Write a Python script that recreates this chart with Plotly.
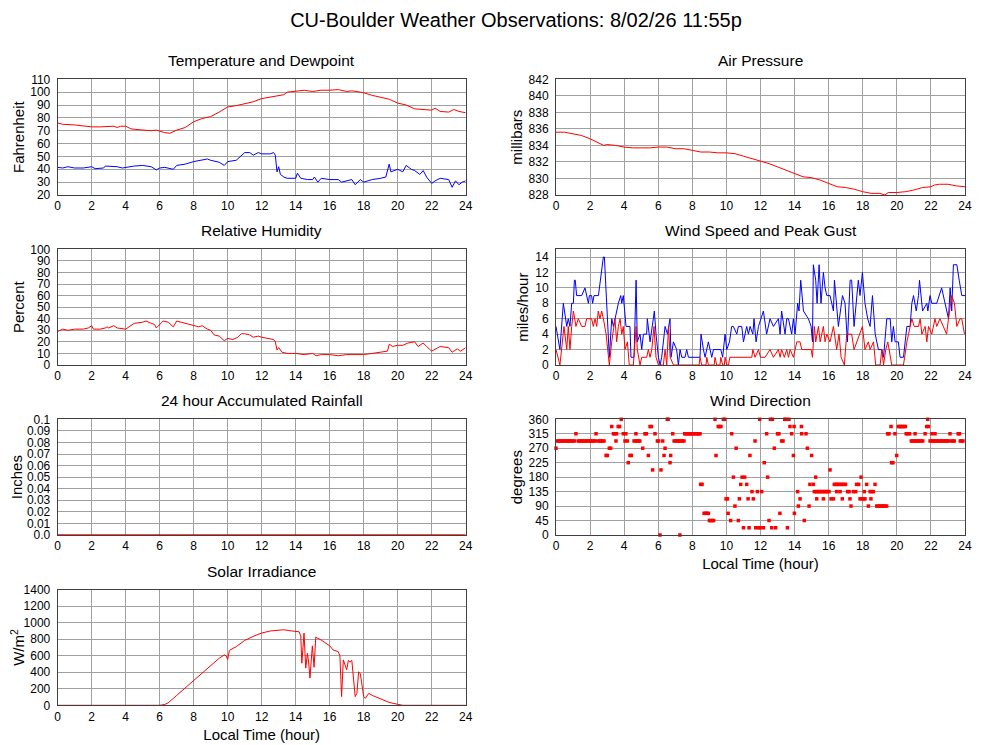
import plotly.graph_objects as go


# Température / point de rosée (°F) ---------------------------------------------
temp_h = [0, 0.3, 1, 1.5, 2, 2.5, 3, 3.3, 3.5, 3.7, 4, 4.3, 4.6, 5, 5.5, 5.8, 6, 6.3, 6.6, 6.8,
          7, 7.5, 8, 8.5, 9, 9.5, 10, 10.5, 11, 11.5, 12, 12.5, 13, 13.3, 13.5, 14, 14.5, 15, 15.5, 16,
          16.5, 17, 17.3, 17.6, 18, 18.5, 19, 19.5, 20, 20.5, 21, 21.5, 22, 22.2, 22.5, 23, 23.3, 23.6, 24]
temp_f = [76, 75, 74.5, 73.5, 73, 73, 73.5, 73.5, 72.5, 73.5, 73.5, 71.5, 71, 70.5, 70, 70.5, 69.5, 68.5, 68, 69.5,
          70.5, 72.5, 77, 79.5, 81, 84.5, 88.5, 89.5, 91, 92.5, 95, 96, 97, 98, 100, 101, 101.5, 100.5, 101.5, 101.5,
          102, 100.5, 101, 100.5, 99.5, 97.5, 96, 94.5, 91.5, 90, 87, 86.5, 86, 87.5, 85, 84.5, 86.5, 85, 84]

dew_h = [0, 0.3, 0.6, 1, 1.5, 2, 2.2, 2.7, 2.8, 3.2, 3.5, 3.8, 4, 4.5, 5, 5.5, 5.8, 6, 6.3, 6.6,
         6.8, 7, 7.5, 8, 8.5, 8.8, 9, 9.5, 9.8, 10, 10.5, 10.8, 11, 11.3, 11.5, 11.8, 12, 12.5, 12.7, 12.8,
         12.9, 13, 13.1, 13.3, 13.5, 14, 14.1, 14.3, 14.7, 15, 15.1, 15.3, 15.5, 16, 16.5, 16.7, 17, 17.3, 17.5, 17.8,
         18, 18.5, 19, 19.3, 19.5, 19.6, 20, 20.3, 20.5, 20.8, 21, 21.3, 21.5, 21.7, 22, 22.2, 22.5, 23, 23.2, 23.4,
         23.6, 23.8, 24]
dew_f = [41.5, 41, 42, 41, 41, 42, 40.5, 41, 42.5, 42, 42, 41, 41.5, 42.5, 43, 42, 39.5, 41, 41.5, 40.5,
         40, 43, 44, 46, 47, 48, 47, 45.5, 43, 46, 47, 51, 53, 53, 51, 53, 52, 52, 53, 51,
         38, 42, 36, 34, 33, 33, 37, 33, 32, 32, 34, 30, 33, 32, 32, 30, 31, 32, 28, 32,
         30, 32, 33, 34, 44, 38, 40, 38, 43, 40, 39, 36, 39, 34, 29, 31, 33, 32, 26, 31,
         28, 30, 31]

# Pression (mb) ----------------------------------------------------------------
pres_h = [0, 0.5, 1, 1.5, 2, 2.5, 2.8, 3, 3.5, 4, 4.5, 5, 5.5, 6, 6.5, 7, 7.5, 8, 8.5, 9,
          9.5, 10, 10.5, 11, 11.5, 12, 12.5, 13, 13.5, 14, 14.5, 15, 15.5, 16, 16.5, 17, 17.5, 18, 18.5, 19,
          19.3, 19.5, 20, 20.5, 21, 21.5, 22, 22.2, 22.5, 23, 23.5, 24]
pres_mb = [835.6, 835.6, 835.4, 835.2, 834.8, 834.3, 834.0, 834.1, 834.0, 833.8, 833.7, 833.7, 833.7, 833.8, 833.8,
           833.6, 833.6, 833.4, 833.2, 833.2, 833.1, 833.1, 833.0, 832.7, 832.4, 832.1, 831.8, 831.4, 831.0, 830.6,
           830.2, 830.1, 829.8, 829.4, 829.0, 828.9, 828.7, 828.4, 828.2, 828.2, 828.0, 828.3, 828.3, 828.4, 828.6,
           828.9, 829.0, 829.2, 829.3, 829.3, 829.1, 829.0]

# Humidité relative (%) --------------------------------------------------------
rh_h = [0, 0.3, 0.6, 1, 1.5, 1.8, 2, 2.1, 2.5, 2.8, 2.9, 3, 3.3, 3.5, 4, 4.3, 4.5, 5, 5.2, 5.5,
        5.7, 5.8, 6, 6.2, 6.5, 6.8, 7, 7.5, 8, 8.3, 8.5, 8.8, 9, 9.2, 9.5, 9.8, 10, 10.3, 10.6, 10.8,
        11, 11.3, 11.5, 11.8, 12, 12.3, 12.7, 12.8, 12.9, 13, 13.2, 13.5, 14, 14.5, 15, 15.2, 15.5, 16, 16.5, 17,
        17.5, 18, 18.5, 19, 19.4, 19.5, 19.7, 20, 20.3, 20.6, 21, 21.2, 21.5, 21.7, 22, 22.5, 23, 23.2, 23.5, 23.7,
        24]
rh_pct = [29, 31, 30, 31, 31, 32, 34, 31, 31, 32, 33, 32, 34, 32, 31, 34, 36, 37, 38, 36,
          35, 32, 35, 38, 37, 33, 38, 36, 34, 33, 34, 31, 30, 26, 25, 21, 23, 22, 24, 27,
          27, 26, 24, 25, 24, 23, 22, 20, 13, 15, 11, 10, 10, 9, 10, 8, 9, 9, 8, 9,
          9, 9, 10, 11, 12, 18, 16, 17, 17, 19, 20, 16, 19, 16, 12, 16, 15, 11, 14, 12,
          15]

# Vent (mph) -------------------------------------------------------------------
gust_h = [0.0, 0.23, 0.43, 0.63, 0.72, 0.82, 0.92, 1.02, 1.08, 1.13, 1.21, 1.51, 1.70, 1.80, 1.90, 1.96, 2.09, 2.15,
          2.23, 2.49, 2.62, 2.78, 2.84, 2.97, 3.13, 3.27, 3.37, 3.66, 3.80, 3.86, 3.95, 4.11, 4.34, 4.40, 4.58, 4.70,
          4.77, 4.93, 5.03, 5.13, 5.32, 5.36, 5.52, 5.71, 5.77, 5.87, 6.01, 6.11, 6.20, 6.40, 6.54, 6.69, 6.75, 6.89,
          7.08, 7.18, 7.28, 7.38, 7.57, 7.67, 7.77, 8.45, 8.51, 8.65, 8.75, 8.94, 9.14, 9.24, 9.53, 9.67, 9.78, 9.92,
          10.02, 10.18, 10.31, 10.41, 10.61, 10.70, 10.90, 11.00, 11.19, 11.29, 11.39, 11.55, 11.62, 11.74, 11.88,
          12.17, 12.36, 12.56, 12.76, 13.05, 13.15, 13.24, 13.44, 13.54, 13.64, 13.83, 13.93, 14.03, 14.18, 14.26,
          14.36, 14.52, 14.81, 14.97, 15.05, 15.10, 15.24, 15.32, 15.44, 15.55, 15.69, 15.79, 15.89, 16.08, 16.18,
          16.28, 16.34, 16.57, 16.81, 16.96, 17.10, 17.26, 17.35, 17.49, 17.74, 17.84, 17.98, 18.13, 18.29, 18.43,
          18.57, 18.73, 18.92, 19.12, 19.22, 19.41, 19.61, 19.70, 19.80, 19.90, 20.09, 20.19, 20.39, 20.59, 20.78,
          20.88, 20.98, 21.14, 21.27, 21.33, 21.51, 21.76, 21.82, 21.95, 22.05, 22.34, 22.63, 22.83, 22.93, 23.03,
          23.13, 23.22, 23.32, 23.52, 23.66, 23.81, 24.0]
gust_mph = [5, 2, 8, 5, 6, 5, 8, 8, 11, 11, 9, 9, 10, 9, 8, 9, 9, 8,
            9, 9, 11, 14, 14, 8, 1, 6, 5, 8, 9, 8, 9, 5, 5, 1, 1, 11,
            3, 4, 2, 4, 4, 6, 3, 6, 7, 4, 1, 0, 1, 5, 4, 6, 1, 3,
            2, 0, 2, 1, 1, 2, 1, 1, 4, 2, 1, 3, 1, 2, 2, 2, 1, 4,
            2, 3, 5, 5, 4, 5, 5, 3, 5, 4, 5, 4, 6, 3, 5,
            7, 4, 6, 5, 6, 4, 7, 4, 6, 6, 4, 6, 4, 8, 7,
            11, 7, 6, 5, 3, 13, 11, 8, 13, 8, 12, 10, 9, 9, 8,
            7, 11, 5, 9, 8, 3, 11, 11, 5, 11, 9, 12, 8, 6, 5,
            9, 4, 2, 2, 1, 6, 6, 3, 5, 3, 3, 1, 1, 5, 5,
            8, 9, 7, 9, 11, 7, 8, 7, 9, 8, 8, 10, 8, 7, 6,
            10, 7, 13, 13, 11, 9, 9]

spd_h = [0.0, 0.23, 0.47, 0.63, 0.72, 0.82, 0.92, 1.02, 1.17, 1.31, 1.51, 1.70, 1.80, 2.09, 2.19, 2.29, 2.39, 2.48,
         2.58, 2.68, 2.78, 2.94, 3.13, 3.27, 3.46, 3.56, 3.66, 3.76, 3.86, 3.95, 4.05, 4.19, 4.30, 4.54, 4.70, 4.77,
         4.93, 5.03, 5.32, 5.42, 5.52, 5.62, 5.75, 5.87, 6.01, 6.30, 6.40, 6.50, 6.60, 6.70, 6.89, 8.40, 8.45, 8.55,
         8.80, 8.85, 8.94, 9.28, 9.33, 9.43, 9.62, 9.67, 9.78, 9.88, 9.92, 10.02, 10.12, 10.20, 11.49, 11.55, 11.68,
         11.88, 12.00, 12.27, 12.56, 12.76, 13.05, 13.15, 13.24, 13.40, 13.54, 13.64, 13.74, 13.93, 14.13, 14.32,
         14.42, 14.97, 15.05, 15.16, 15.24, 15.40, 15.50, 15.69, 15.79, 15.89, 16.08, 16.28, 16.47, 16.61, 16.73,
         16.92, 17.06, 17.35, 17.49, 17.98, 18.13, 18.33, 18.43, 18.63, 18.76, 19.02, 19.12, 19.22, 19.35, 19.47,
         19.70, 20.39, 20.59, 20.78, 20.88, 21.02, 21.27, 21.37, 21.47, 21.66, 21.76, 21.86, 22.05, 22.24, 22.34,
         22.53, 22.73, 22.92, 23.03, 23.22, 23.38, 23.52, 23.71, 23.81, 23.97]
spd_mph = [2, 0, 5, 2, 5, 2, 5, 7, 5, 6, 5, 5, 6, 6, 5, 6, 5, 7,
           6, 7, 6, 4, 0, 3, 6, 3, 5, 6, 4, 5, 2, 3, 0, 0, 5, 2,
           0, 1, 1, 2, 1, 2, 5, 1, 0, 0, 2, 0, 5, 1, 0, 0, 1, 0,
           0, 1, 0, 0, 1, 0, 0, 1, 0, 0, 1, 0, 0, 1, 1, 2, 1,
           2, 1, 1, 2, 1, 2, 1, 2, 1, 2, 1, 2, 1, 3, 3,
           2, 2, 1, 5, 3, 5, 3, 5, 3, 4, 3, 5, 2, 4, 1,
           0, 4, 4, 2, 5, 2, 3, 2, 3, 0, 0, 2, 0, 2, 3,
           0, 0, 3, 5, 6, 5, 5, 6, 4, 5, 3, 5, 4, 6, 5,
           6, 5, 4, 6, 9, 8, 5, 6, 6, 4]

# Direction du vent : heures par secteur (degrés) ------------------------------
wd_0 = [6.1, 7.27]
wd_22 = [11.0, 11.33, 11.72, 11.9, 11.98, 12.17, 12.66, 12.89, 13.58]
wd_45 = [9.0, 9.08, 9.17, 9.25, 10.25, 10.7, 12.5, 14.57]
wd_67 = [8.69, 8.77, 8.85, 8.94, 10.1, 13.14, 13.99]
wd_90 = [10.5, 14.22, 14.85, 17.31, 18.33, 18.82, 18.9, 18.98, 19.07, 19.15, 19.23, 19.32, 19.4]
wd_112 = [9.98, 10.06, 10.76, 11.27, 11.58, 14.32, 15.3, 15.69, 16.14, 16.28, 16.8, 17.25, 17.84, 17.95, 18.05,
          18.13, 18.48]
wd_135 = [11.5, 11.82, 12.07, 14.18, 15.16, 15.25, 15.33, 15.42, 15.5, 15.6, 15.68, 15.77, 15.85, 15.93, 16.02,
          16.47, 16.67, 17.11, 17.2, 17.45, 17.59, 18.09, 18.43, 18.53, 18.62]
wd_157 = [8.49, 8.57, 10.84, 11.19, 14.9, 15.1, 16.33, 16.42, 16.5, 16.6, 16.7, 16.8, 16.9, 16.99, 17.64, 17.76,
          18.23, 18.72]
wd_180 = [10.41, 10.92, 11.07, 12.42, 15.24, 17.9]
wd_202 = [5.67, 6.16, 16.08]
wd_225 = [4.24, 6.69, 12.22, 19.69, 19.77]
wd_247 = [2.94, 3.01, 4.34, 4.42, 5.42, 6.34, 6.73, 9.39, 11.38, 13.93, 15.0, 19.99]
wd_270 = [0.0, 3.13, 3.21, 5.09, 6.4, 10.57, 12.81, 14.75]
wd_292 = [0.08, 0.17, 0.25, 0.33, 0.42, 0.5, 0.58, 0.67, 0.75, 0.83, 0.92, 1.0, 1.08,
          1.3, 1.38, 1.47, 1.55, 1.63, 1.72, 1.8, 1.88, 1.97, 2.05, 2.13, 2.22, 2.3,
          2.48, 2.57, 2.65, 2.73, 2.82, 3.52, 4.05, 4.19, 4.58, 4.67, 4.75, 4.83, 4.92,
          5.95, 6.02, 6.26, 6.93, 7.02, 7.1, 7.18, 7.27, 7.35, 7.43, 7.51, 11.68, 13.24, 13.32,
          20.85, 20.93, 21.02, 21.1, 21.18, 21.27, 21.35, 21.43, 21.52,
          21.95, 22.03, 22.12, 22.2, 22.28, 22.37, 22.45, 22.53, 22.62, 22.7, 22.78, 22.87, 22.95, 23.03,
          23.2, 23.28, 23.37, 23.72, 23.8, 23.88]
wd_315 = [1.17, 2.35, 3.37, 3.45, 3.55, 3.95, 4.1, 4.69, 5.22, 5.3, 5.81, 6.85, 7.55, 7.63, 7.72, 7.8, 7.88,
          7.97, 8.05, 8.13, 8.22, 8.3, 8.38, 8.45, 10.31, 12.36, 13.0, 13.08, 13.83, 14.42, 14.67, 19.46, 19.54,
          19.89, 20.55, 20.65, 20.75, 21.07, 21.66, 22.06, 22.24, 23.12, 23.6, 23.68]
wd_337 = [3.27, 3.65, 3.73, 5.52, 5.6, 9.52, 9.6, 9.68, 13.73, 13.97, 14.4, 19.66, 20.09, 20.17, 20.25, 20.33,
          20.42, 20.5, 21.75, 21.85]
wd_360 = [3.83, 6.53, 6.58, 9.33, 9.82, 9.9, 11.95, 12.58, 12.7, 13.42, 13.5, 13.67, 21.81]

# Pluie (in) et rayonnement solaire (W/m2) --------------------------------------
rain_h = [0, 24]
rain_in = [0.0, 0.0]

sol_h = [0, 6.0, 6.3, 6.5, 7, 7.5, 8, 8.5, 9, 9.5, 9.8, 9.9, 10, 10.05, 10.1, 10.5, 11, 11.5, 12, 12.5,
         13, 13.3, 13.6, 14, 14.2, 14.3, 14.36, 14.43, 14.49, 14.59, 14.69, 14.76, 14.84, 14.92, 14.98, 15.08,
         15.18, 15.5, 16, 16.2, 16.5, 16.6, 16.7, 16.8, 17.0, 17.1, 17.2, 17.3, 17.4, 17.5, 17.6, 17.7, 17.8,
         17.9, 18.0, 18.1, 18.3, 18.5, 19, 19.5, 20, 20.2, 20.3, 24]
sol_wm2 = [0, 0, 10, 30, 120, 210, 305, 400, 490, 570, 610, 600, 555, 640, 665, 710, 785, 835, 875, 900,
           910, 915, 905, 895, 890, 840, 510, 700, 875, 450, 630, 520, 330, 560, 720, 460,
           825, 790, 720, 670, 650, 600, 105, 550, 430, 545, 525, 545, 350, 105, 145, 405, 385,
           265, 105, 85, 145, 120, 75, 35, 12, 5, 0, 0]

hour_ticks = list(range(0, 25, 2))


# Mise en page -----------------------------------------------------------------
FONT = "Liberation Sans, Arial, Helvetica, sans-serif"
RED = "#ff0000"
BLUE = "#0000ff"
GRID = "#a0a0a0"
FRAME = "#404040"
W, H = 1000, 745
OFS = 8  # marge du <body> de la page html

# boîtes des panneaux en pixels (coordonnées de la capture)
cols_px = [(57.7, 465.7), (556, 965)]
rows_px = [(79.3, 195), (249.3, 365), (419.3, 535), (589.7, 705.3)]


def x_paper(px):
    return (px - OFS) / W


def y_paper(py):
    return 1 - (py - OFS) / H


def axes(n, row, col, yrange, ytickvals, ytitle, yticktext=None, xtitle=None):
    x0, x1 = cols_px[col]
    top, bottom = rows_px[row]
    sfx = '' if n == 1 else str(n)
    common = dict(showgrid=True, gridcolor=GRID, gridwidth=1, showline=True, linecolor=FRAME,
                  linewidth=1, mirror=True, zeroline=False, ticks='', fixedrange=True, automargin=False,
                  tickfont=dict(family=FONT, size=12, color='black'))
    xa = dict(common, domain=[x_paper(x0), x_paper(x1)], anchor='y' + sfx, range=[0, 24],
              tickvals=hour_ticks, ticklabelstandoff=0)
    if xtitle:
        xa['title'] = dict(text=xtitle, font=dict(family=FONT, size=15, color='black'), standoff=6)
    ya = dict(common, domain=[y_paper(bottom), y_paper(top)], anchor='x' + sfx, range=yrange,
              tickvals=ytickvals, ticklabelstandoff=4,
              title=dict(text=ytitle, font=dict(family=FONT, size=15, color='black'), standoff=2))
    if yticktext is not None:
        ya['ticktext'] = yticktext
    return {'xaxis' + sfx: xa, 'yaxis' + sfx: ya}


def line(x, y, color, n, width=1):
    sfx = '' if n == 1 else str(n)
    return go.Scatter(x=x, y=y, mode='lines', line=dict(color=color, width=width),
                      xaxis='x' + sfx, yaxis='y' + sfx, showlegend=False, hoverinfo='skip')


fig = go.Figure()

fig.add_trace(line(temp_h, temp_f, RED, 1))
fig.add_trace(line(dew_h, dew_f, BLUE, 1))
fig.add_trace(line(pres_h, pres_mb, RED, 2))
fig.add_trace(line(rh_h, rh_pct, RED, 3))
fig.add_trace(line(gust_h, gust_mph, BLUE, 4))
fig.add_trace(line(spd_h, spd_mph, RED, 4))
fig.add_trace(line(rain_h, rain_in, RED, 5, width=1.5))
fig.add_trace(line(sol_h, sol_wm2, RED, 7))

# direction du vent : un point par observation
sectors = [(0, wd_0), (22.5, wd_22), (45, wd_45), (67.5, wd_67), (90, wd_90), (112.5, wd_112),
           (135, wd_135), (157.5, wd_157), (180, wd_180), (202.5, wd_202), (225, wd_225),
           (247.5, wd_247), (270, wd_270), (292.5, wd_292), (315, wd_315), (337.5, wd_337), (360, wd_360)]
dir_x, dir_y = [], []
for deg, hours in sectors:
    dir_x += hours
    dir_y += [deg] * len(hours)
fig.add_trace(go.Scatter(x=dir_x, y=dir_y, mode='markers', xaxis='x6', yaxis='y6', showlegend=False,
                         marker=dict(symbol='square', size=3.5, color=RED, line=dict(width=0)),
                         cliponaxis=False, hoverinfo='skip'))

layout = {}
layout.update(axes(1, 0, 0, [20, 110], list(range(20, 111, 10)), 'Fahrenheit'))
layout.update(axes(2, 0, 1, [828, 842], list(range(828, 843, 2)), 'millibars'))
layout.update(axes(3, 1, 0, [0, 100], list(range(0, 101, 10)), 'Percent'))
layout.update(axes(4, 1, 1, [0, 15], list(range(0, 15, 2)), 'miles/hour'))
rain_ticks = [i / 100 for i in range(11)]
layout.update(axes(5, 2, 0, [0, 0.1], rain_ticks, 'Inches',
                   yticktext=['0.0'] + ['%.2f' % v for v in rain_ticks[1:10]] + ['0.1']))
layout.update(axes(6, 2, 1, [0, 360], list(range(0, 361, 45)), 'degrees', xtitle='Local Time (hour)'))
layout.update(axes(7, 3, 0, [0, 1400], list(range(0, 1401, 200)), 'W/m<sup>2</sup>',
                   xtitle='Local Time (hour)'))

# titres des panneaux
titles = [('Temperature and Dewpoint', 0, 0), ('Air Pressure', 0, 1),
          ('Relative Humidity', 1, 0), ('Wind Speed and Peak Gust', 1, 1),
          ('24 hour Accumulated Rainfall', 2, 0), ('Wind Direction', 2, 1),
          ('Solar Irradiance', 3, 0)]
annotations = []
for txt, r, c in titles:
    x0, x1 = cols_px[c]
    annotations.append(dict(text=txt, x=x_paper((x0 + x1) / 2), y=y_paper(rows_px[r][0] - 18.5),
                            xref='paper', yref='paper', xanchor='center', yanchor='middle',
                            showarrow=False, font=dict(family=FONT, size=15.5, color='black')))

fig.update_layout(
    layout,
    template='none',
    width=W,
    height=H,
    margin=dict(l=0, r=0, t=0, b=0, autoexpand=False),
    paper_bgcolor='white',
    plot_bgcolor='white',
    font=dict(family=FONT, color='black'),
    title=dict(text='CU-Boulder Weather Observations: 8/02/26 11:55p', x=x_paper(516), xanchor='center',
               y=y_paper(20), yanchor='middle', font=dict(family=FONT, size=20, color='black')),
    annotations=annotations,
    showlegend=False,
)

fig.write_html("out.html")
